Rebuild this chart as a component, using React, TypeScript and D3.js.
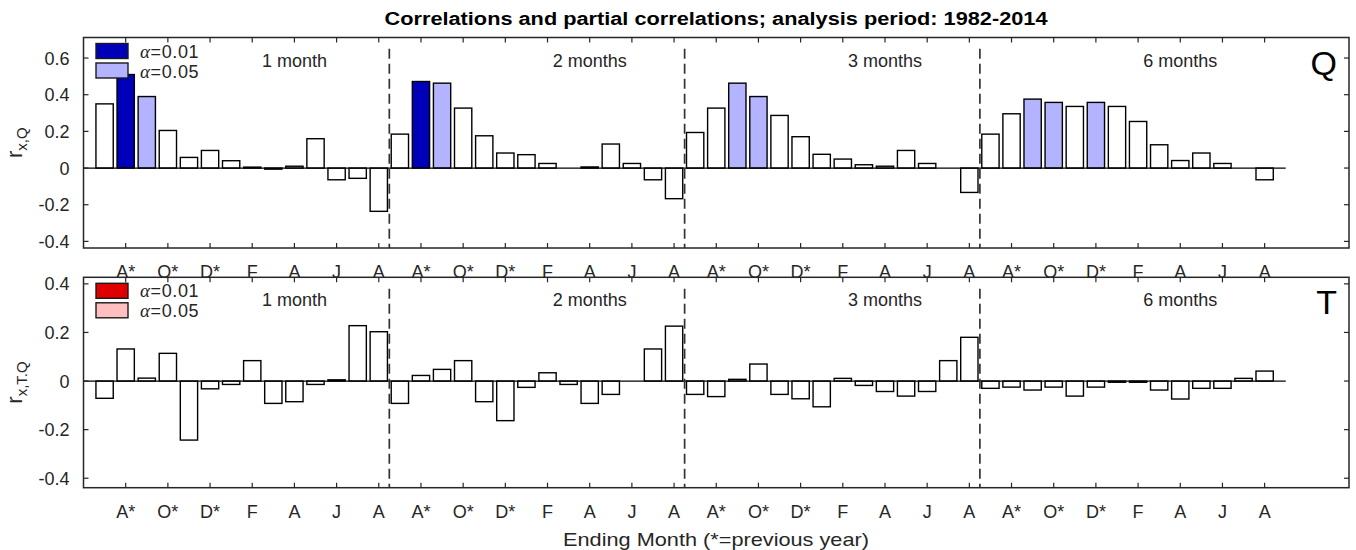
import React from "react";
import * as d3 from "d3";

// window lengths and ending-month tick labels
const windows = ["1 month", "2 months", "3 months", "6 months"];
const windowCenters = [10, 24, 38, 52];
const tickLabels = ["A*", "O*", "D*", "F", "A", "J", "A"];
const separators = [14.5, 28.5, 42.5];

// correlations with Q (4 windows x 14 ending months)
const qValues = [
  0.35, 0.51, 0.39, 0.205, 0.058, 0.096, 0.04, 0.005, -0.006, 0.01, 0.16, -0.064, -0.056, -0.236,
  0.185, 0.472, 0.463, 0.327, 0.176, 0.082, 0.073, 0.025, 0.0, 0.006, 0.131, 0.025, -0.064, -0.167,
  0.194, 0.327, 0.463, 0.39, 0.287, 0.171, 0.075, 0.049, 0.018, 0.01, 0.096, 0.025, 0.0, -0.133,
  0.185, 0.296, 0.376, 0.358, 0.336, 0.358, 0.336, 0.254, 0.127, 0.041, 0.082, 0.025, 0.0, -0.064,
];
// significance: 0 none, 1 alpha=0.01, 2 alpha=0.05
const qSig = [
  0, 1, 2, 0, 0, 0, 0, 0, 0, 0, 0, 0, 0, 0,
  0, 1, 2, 0, 0, 0, 0, 0, 0, 0, 0, 0, 0, 0,
  0, 0, 2, 2, 0, 0, 0, 0, 0, 0, 0, 0, 0, 0,
  0, 0, 2, 2, 0, 2, 0, 0, 0, 0, 0, 0, 0, 0,
];

// partial correlations with T given Q
const tValues = [
  -0.071, 0.132, 0.012, 0.114, -0.243, -0.032, -0.014, 0.084, -0.092, -0.085, -0.014, 0.005, 0.228, 0.203,
  -0.092, 0.023, 0.048, 0.084, -0.085, -0.163, -0.026, 0.034, -0.014, -0.092, -0.055, 0.0, 0.132, 0.226,
  -0.055, -0.064, 0.007, 0.07, -0.055, -0.073, -0.106, 0.011, -0.018, -0.043, -0.062, -0.043, 0.084, 0.18,
  -0.03, -0.025, -0.037, -0.025, -0.062, -0.025, -0.005, -0.005, -0.037, -0.074, -0.03, -0.03, 0.011, 0.041,
];
const tSig = [
  0, 0, 0, 0, 0, 0, 0, 0, 0, 0, 0, 0, 0, 0,
  0, 0, 0, 0, 0, 0, 0, 0, 0, 0, 0, 0, 0, 0,
  0, 0, 0, 0, 0, 0, 0, 0, 0, 0, 0, 0, 0, 0,
  0, 0, 0, 0, 0, 0, 0, 0, 0, 0, 0, 0, 0, 0,
];

const font = "'Liberation Sans', Arial, Helvetica, sans-serif";
const axisColor = "#262626";

const x = d3.scaleLinear().domain([0, 60]).range([83.5, 1349]);
const step = x(1) - x(0);
const barW = step * 0.82;

type PanelProps = {
  values: number[];
  sig: number[];
  top: number;
  bottom: number;
  yDomain: [number, number];
  yTicks: number[];
  dashTop: number;
  colors: string[];
  letter: string;
  sub: string;
};

const Panel = ({values, sig, top, bottom, yDomain, yTicks, dashTop, colors, letter, sub}: PanelProps) => {
  const y = d3.scaleLinear().domain(yDomain).range([bottom, top]);
  const left = x.range()[0];
  const right = x.range()[1];
  const fmt = (v: number) => (v === 0 ? "0" : d3.format(".1f")(v).replace("−", "-"));
  const xticks = d3.range(2, 57, 2);
  const fills = ["#ffffff", colors[0], colors[1]];

  return (
    <g>
      {/* bars */}
      {values.map((v, i) => (
        <rect key={i}
              x={x(i + 1) - barW / 2}
              y={Math.min(y(v), y(0))}
              width={barW}
              height={Math.abs(y(v) - y(0))}
              fill={fills[sig[i]]}
              stroke="#000"
              strokeWidth={1.4} />
      ))}
      {/* baseline */}
      <line x1={left} x2={x(57)} y1={y(0)} y2={y(0)} stroke="#000" strokeWidth={1.2} />
      {/* separators */}
      {separators.map((s, i) => (
        <line key={i} x1={x(s)} x2={x(s)} y1={y(dashTop)} y2={bottom}
              stroke="#333" strokeWidth={1.7} strokeDasharray="10,5" />
      ))}
      {/* frame */}
      <rect x={left} y={top} width={right - left} height={bottom - top}
            fill="none" stroke={axisColor} strokeWidth={1.5} />
      {/* x ticks */}
      {xticks.map((t, i) => (
        <g key={i}>
          <line x1={x(t)} x2={x(t)} y1={bottom} y2={bottom - 5} stroke={axisColor} strokeWidth={1.2} />
          <line x1={x(t)} x2={x(t)} y1={top} y2={top + 5} stroke={axisColor} strokeWidth={1.2} />
          <text x={x(t)} y={bottom + 30} textAnchor="middle" fontSize={18} fill={axisColor}>
            {tickLabels[i % 7]}
          </text>
        </g>
      ))}
      {/* y ticks */}
      {yTicks.map((t, i) => (
        <g key={i}>
          <line x1={left} x2={left + 5} y1={y(t)} y2={y(t)} stroke={axisColor} strokeWidth={1.2} />
          <line x1={right} x2={right - 5} y1={y(t)} y2={y(t)} stroke={axisColor} strokeWidth={1.2} />
          <text x={left - 14} y={y(t) + 6.5} textAnchor="end" fontSize={18} fill={axisColor}>
            {fmt(t)}
          </text>
        </g>
      ))}
      {/* y label */}
      <text transform={`translate(22, ${(top + bottom) / 2}) rotate(-90)`}
            textAnchor="middle" fontSize={22} fill={axisColor}>
        r<tspan fontSize={15} dy={5}>{sub}</tspan>
      </text>
      {/* window labels */}
      {windows.map((w, i) => (
        <text key={i} x={x(windowCenters[i])} y={top + 29} textAnchor="middle" fontSize={18} fill={axisColor}>
          {w}
        </text>
      ))}
      {/* legend */}
      {["0.01", "0.05"].map((a, i) => (
        <g key={i}>
          <rect x={96} y={top + 6 + i * 19.5} width={32} height={15}
                fill={colors[i]} stroke="#1a1a1a" strokeWidth={1.4} />
          <text x={140} y={top + 20 + i * 20} fontSize={18} fill={axisColor} letterSpacing={0.6}>
            <tspan fontFamily="'Liberation Serif', 'DejaVu Serif', serif" fontStyle="italic" fontSize={19}>α</tspan>=
            {a}
          </text>
        </g>
      ))}
      {/* panel letter */}
      <text x={1337} y={top + 37} textAnchor="end" fontSize={34} fill="#000">{letter}</text>
    </g>
  );
};

export default function App() {
  return (
    <div style={{position: "absolute", left: 0, top: 0}}>
      <svg width={1356} height={550} fontFamily={font} style={{display: "block", background: "#fff"}}>
        <text x={716} y={25} textAnchor="middle" fontSize={18} fontWeight="bold" fill="#000"
              textLength={663} lengthAdjust="spacingAndGlyphs">
          Correlations and partial correlations; analysis period: 1982-2014
        </text>
        <Panel values={qValues} sig={qSig} top={37.5} bottom={248}
               yDomain={[-0.436, 0.712]} yTicks={[-0.4, -0.2, 0, 0.2, 0.4, 0.6]}
               dashTop={0.65} colors={["#0000bb", "#b3b3ff"]} letter="Q" sub="x,Q" />
        <Panel values={tValues} sig={tSig} top={277.3} bottom={487.7}
               yDomain={[-0.439, 0.427]} yTicks={[-0.4, -0.2, 0, 0.2, 0.4]}
               dashTop={0.38} colors={["#e00000", "#ffbfbf"]} letter="T" sub="x,T.Q" />
        <text x={716} y={546} textAnchor="middle" fontSize={19} fill={axisColor}
              textLength={306} lengthAdjust="spacingAndGlyphs">
          Ending Month (*=previous year)
        </text>
      </svg>
    </div>
  );
}
